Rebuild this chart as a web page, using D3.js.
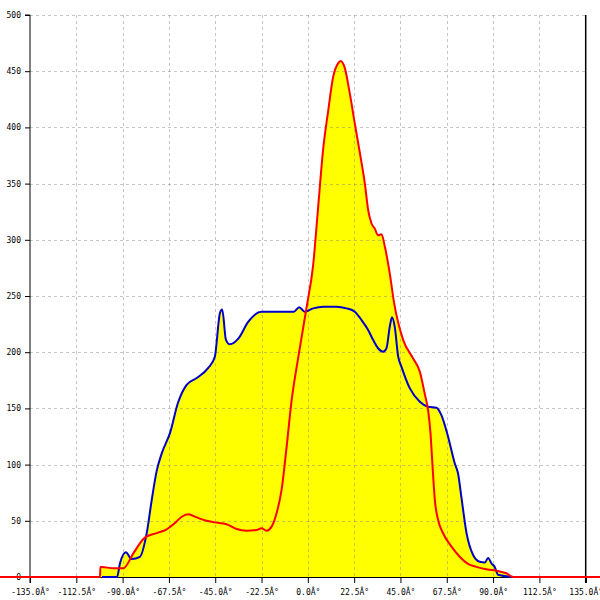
<!DOCTYPE html>
<html>
<head>
<meta charset="utf-8">
<script src="https://cdn.jsdelivr.net/npm/d3@7"></script>
<style>
html,body{margin:0;padding:0;background:#fff;}
svg{display:block;}
text{font-family:"DejaVu Sans Mono",monospace;font-size:8px;fill:#000;}
</style>
</head>
<body>
<svg id="chart" width="600" height="600"></svg>
<script>
const xTicks = [-135, -112.5, -90, -67.5, -45, -22.5, 0, 22.5, 45, 67.5, 90, 112.5, 135];
const xTickLabels = ["-135.0Â°","-112.5Â°","-90.0Â°","-67.5Â°","-45.0Â°","-22.5Â°","0.0Â°","22.5Â°","45.0Â°","67.5Â°","90.0Â°","112.5Â°","135.0Â°"];
const yTicks = [0, 50, 100, 150, 200, 250, 300, 350, 400, 450, 500];

const blueAngles = [-100.0,-92.7,-91.3,-88.4,-85.6,-81.6,-78.3,-75.9,-73.5,-71.0,-67.0,-63.1,-58.9,-54.0,-48.4,-45.2,-42.7,-41.6,-39.8,-37.9,-33.8,-29.0,-22.5,-8.7,-6.8,-4.2,-1.5,2.6,7.4,13.9,18.8,22.8,26.1,29.3,31.7,34.1,36.6,38.2,39.8,40.9,42.2,43.9,45.5,49.5,54.4,58.4,62.5,64.9,68.1,71.4,73.0,74.6,77.1,80.3,83.5,86.0,87.6,89.2,90.8,92.4,99.7];
const blueValues = [0,0,12,22,16,18,39,68,94,110,128,155,171,177,186,196,235,238,211,207,212,227,236,236,236,240,236,239,240.5,240.5,239,236,228.6,219.7,211,203.5,200.5,203.5,222.7,231,222.7,196,187,168,156,151.5,150.6,144,125,101,92,71,39,19.6,13.6,13,17,12,9,2,0];

const redAngles = [-150,-101.0,-100.8,-100.2,-94.5,-89.7,-84.8,-81.6,-79.2,-73.5,-68.6,-64.6,-61.3,-58.1,-54.0,-49.2,-45.2,-39.5,-34.6,-29.8,-24.9,-22.5,-20.1,-17.6,-15.2,-12.8,-10.3,-7.9,-4.7,-0.6,2.6,5.0,7.4,9.9,12.3,14.7,15.9,18.0,20.4,22.8,25.3,27.7,29.3,30.9,32.5,34.1,35.8,37.4,39.8,41.8,46.3,51.1,54.4,56.8,58.4,59.6,60.6,61.7,63.3,65.7,69.8,73.8,77.8,81.9,86.8,92.4,96.5,99.7,150];
const redValues = [0,0,9,9,7.7,7.7,21,30,35,39,42.4,48,53.6,55.8,53,50,48.6,47,42.7,41.2,41.8,43.3,41.2,44.8,56.7,77,116,157,195,240,278,329,380,415,445,457,459,452.5,430,403.6,377,350,326.5,314.7,310,304,305,294,270,245,211,194.6,182.7,163,148.6,127.8,98,68.5,50.7,38.9,27,18,11.6,9,6.9,5.3,3.3,0,0];

const blue = blueAngles.map((a,i)=>({a, v: blueValues[i]}));
const red = redAngles.map((a,i)=>({a, v: redValues[i]}));

const svg = d3.select("#chart");
const x = d3.scaleLinear().domain([-135,135]).range([30,585.7]);
const y = d3.scaleLinear().domain([0,500]).range([577,15]);

const curve = d3.curveMonotoneX;
const area = d3.area().x(d=>x(d.a)).y0(y(0)).y1(d=>y(d.v)).curve(curve);
const line = d3.line().x(d=>x(d.a)).y(d=>y(d.v)).curve(curve);

// fills
svg.append("path").datum(blue).attr("d", area).attr("fill", "#ffff00");
svg.append("path").datum(red).attr("d", area).attr("fill", "#ffff00");

// grid
const grid = svg.append("g").attr("stroke", "#808080").attr("stroke-opacity", 0.45)
  .attr("stroke-dasharray", "3,3").attr("shape-rendering", "crispEdges");
grid.selectAll("line.v").data(xTicks.filter(t=>t!==-135 && t!==135)).join("line")
  .attr("x1", d=>Math.round(x(d))+0.5).attr("x2", d=>Math.round(x(d))+0.5)
  .attr("y1", y(500)).attr("y2", y(0));
grid.selectAll("line.h").data(yTicks.filter(t=>t!==0)).join("line")
  .attr("x1", x(-135)).attr("x2", x(135))
  .attr("y1", d=>Math.round(y(d))+0.5).attr("y2", d=>Math.round(y(d))+0.5);

// axes
const xAxis = d3.axisBottom(x).tickValues(xTicks).tickSize(6).tickPadding(5)
  .tickFormat((d,i)=>xTickLabels[i]);
const gx = svg.append("g").attr("transform", `translate(0,${y(0)})`).call(xAxis);
gx.select(".domain").attr("stroke","#000");
gx.selectAll("text").style("font-family","DejaVu Sans Mono").style("font-size","8px").attr("dy","0.9em");

const yAxis = d3.axisLeft(y).tickValues(yTicks).tickSize(5).tickPadding(4);
const gy = svg.append("g").attr("transform", `translate(${x(-135)},0)`).call(yAxis);
gy.select(".domain").attr("d", `M-5,${y(500)}H0V${y(0)+6}`);
gy.selectAll("text").style("font-family","DejaVu Sans Mono").style("font-size","8px");

// right border
svg.append("line").attr("x1", x(135)).attr("x2", x(135)).attr("y1", y(500)).attr("y2", y(0)+6)
  .attr("stroke","#000").attr("stroke-width",1.5);

// lines
svg.append("path").datum(blue).attr("d", line).attr("fill","none")
  .attr("stroke","#0000c8").attr("stroke-width",2);
svg.append("path").datum(red).attr("d", line).attr("fill","none")
  .attr("stroke","#ff0000").attr("stroke-width",2);
</script>
</body>
</html>
